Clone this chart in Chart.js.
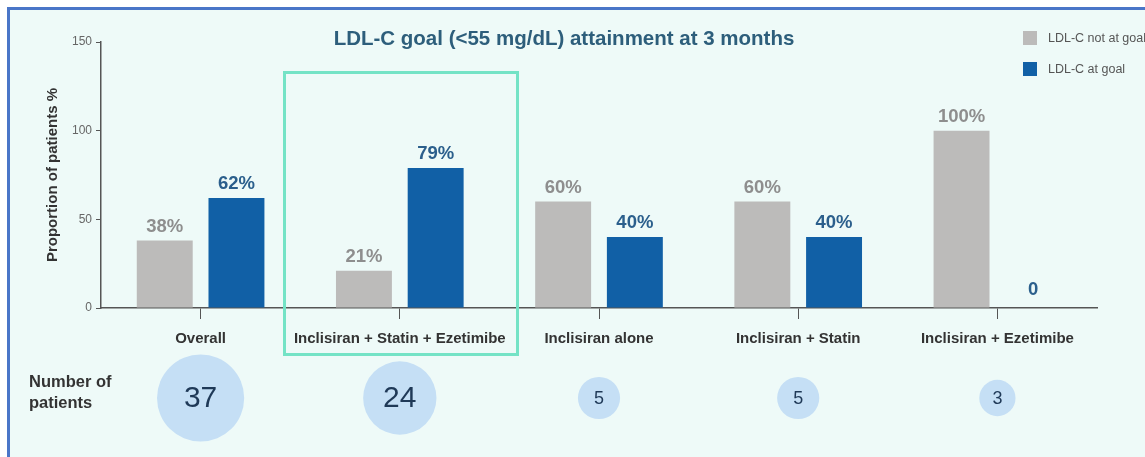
<!DOCTYPE html>
<html>
<head>
<meta charset="utf-8">
<script src="https://cdn.jsdelivr.net/npm/chart.js@4.4.1/dist/chart.umd.min.js"></script>
<style>
  html, body { margin: 0; padding: 0; background: #fff; }
  body { width: 1145px; height: 457px; position: relative; overflow: hidden;
         font-family: Arial, "Liberation Sans", Helvetica, sans-serif; }
  #frame { position: absolute; left: 7px; top: 7px; width: 1160px; height: 470px;
           border: 3px solid #4a76c8; background: #eefaf8; box-sizing: border-box; }
  .layer { position: absolute; left: 0; top: 0; width: 1145px; height: 457px; }
  #title { position: absolute; left: 314px; width: 500px; top: 27px; line-height: 22px;
           text-align: center; font-size: 20.5px; font-weight: bold; color: #2d5e7b; white-space: nowrap; }
  #legend { position: absolute; left: 1023px; top: 31px; font-size: 12.5px; color: #555; white-space: nowrap; }
  #legend div { height: 15px; line-height: 15px; margin-bottom: 16px; }
  #legend span { display: inline-block; width: 14px; height: 14px; vertical-align: top; margin-right: 11px; }
  #nlabel { position: absolute; left: 29px; top: 371px; font-size: 16.5px; font-weight: bold;
            line-height: 21px; color: #333; }
  #highlight { position: absolute; left: 283px; top: 71px; width: 236px; height: 285px;
               border: 3px solid #74e3c6; box-sizing: border-box; pointer-events: none; }
</style>
</head>
<body>
<div id="frame"></div>
<div class="layer"><canvas id="bar-chart"></canvas></div>
<div class="layer"><canvas id="bubble-chart"></canvas></div>
<div id="title">LDL-C goal (&lt;55 mg/dL) attainment at 3 months</div>
<div id="legend"></div>
<div id="nlabel">Number of<br>patients</div>
<div id="highlight"></div>
<script>
const categories = ['Overall', 'Inclisiran + Statin + Ezetimibe', 'Inclisiran alone', 'Inclisiran + Statin', 'Inclisiran + Ezetimibe'];
const notAtGoal = [38, 21, 60, 60, 100];
const atGoal = [62, 79, 40, 40, 0];
const patients = [37, 24, 5, 5, 3];
const yTicks = [0, 50, 100, 150];

const fontFamily = 'Arial, "Liberation Sans", Helvetica, sans-serif';
Chart.defaults.font.family = fontFamily;
Chart.defaults.animation = false;

// value labels above the bars
const barLabels = {
    id: 'barLabels',
    afterDatasetsDraw(chart) {
        const ctx = chart.ctx;
        ctx.save();
        ctx.font = 'bold 18.5px ' + fontFamily;
        ctx.textAlign = 'center';
        ctx.textBaseline = 'alphabetic';
        chart.data.datasets.forEach((ds, i) => {
            chart.getDatasetMeta(i).data.forEach((bar, j) => {
                const v = ds.data[j];
                ctx.fillStyle = ds.labelColor;
                ctx.fillText(v === 0 ? '0' : v + '%', bar.x, bar.y - (v === 0 ? 13 : 9));
            });
        });
        ctx.restore();
    }
};

const barChart = new Chart(document.getElementById('bar-chart'), {
    type: 'bar',
    data: {
        labels: categories,
        datasets: [{
            label: 'LDL-C not at goal',
            data: notAtGoal,
            backgroundColor: '#bcbbba',
            labelColor: '#8e8e8e'
        }, {
            label: 'LDL-C at goal',
            data: atGoal,
            backgroundColor: '#1160a6',
            labelColor: '#2b5f8c'
        }]
    },
    options: {
        responsive: true,
        maintainAspectRatio: false,
        categoryPercentage: 0.72,
        barPercentage: 0.78,
        layout: { padding: { left: 0, top: 42, right: 48, bottom: 109 } },
        plugins: { legend: { display: false }, tooltip: { enabled: false } },
        scales: {
            x: {
                afterFit: s => { s.height = 40; },
                grid: { offset: false, drawOnChartArea: false, color: '#555', tickLength: 11, lineWidth: 1 },
                border: { color: '#555', width: 1.5 },
                ticks: { color: '#333', font: { size: 15, weight: 'bold' }, padding: 11, maxRotation: 0, autoSkip: false }
            },
            y: {
                min: yTicks[0],
                max: yTicks[yTicks.length - 1],
                afterBuildTicks: s => { s.ticks = yTicks.map(v => ({ value: v })); },
                afterFit: s => { s.width = 101; },
                grid: { drawOnChartArea: false, color: '#555', tickLength: 5 },
                border: { color: '#555', width: 1.5 },
                ticks: { color: '#666', font: { size: 12 }, padding: 4 },
                title: {
                    display: true,
                    text: 'Proportion of patients %',
                    color: '#333',
                    font: { size: 15, weight: 'bold' },
                    padding: { top: 44, bottom: 0 }
                }
            }
        }
    },
    plugins: [barLabels]
});

// legend built from the datasets
document.getElementById('legend').innerHTML = barChart.data.datasets
    .map(ds => '<div><span style="background:' + ds.backgroundColor + '"></span>' + ds.label + '</div>')
    .join('');

// numbers inside the bubbles
const bubbleText = {
    id: 'bubbleText',
    afterDatasetsDraw(chart) {
        const ctx = chart.ctx;
        ctx.save();
        ctx.textAlign = 'center';
        ctx.textBaseline = 'middle';
        ctx.fillStyle = '#1f3957';
        chart.getDatasetMeta(0).data.forEach((pt, j) => {
            const n = patients[j];
            ctx.font = (n >= 10 ? 30 : 18) + 'px ' + fontFamily;
            ctx.fillText(String(n), pt.x, pt.y + 1);
        });
        ctx.restore();
    }
};

new Chart(document.getElementById('bubble-chart'), {
    type: 'bubble',
    data: {
        datasets: [{
            data: categories.map(c => ({ x: c, y: 1 })),
            backgroundColor: '#c5dff5',
            borderWidth: 0,
            radius: ctx => 8 + 5.85 * Math.sqrt(patients[ctx.dataIndex]),
            clip: false
        }]
    },
    options: {
        responsive: true,
        maintainAspectRatio: false,
        layout: { autoPadding: false, padding: { left: 101, top: 350, right: 48, bottom: 11 } },
        plugins: { legend: { display: false }, tooltip: { enabled: false } },
        scales: {
            x: { type: 'category', labels: categories, offset: true, display: false },
            y: { min: 0, max: 2, display: false }
        }
    },
    plugins: [bubbleText]
});
</script>
</body>
</html>
